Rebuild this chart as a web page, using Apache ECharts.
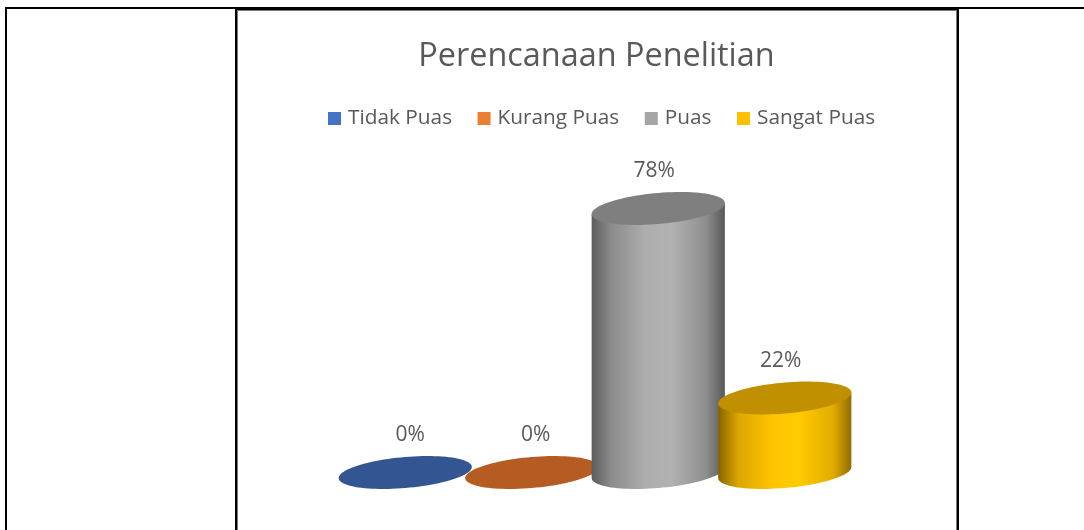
<!DOCTYPE html>
<html><head><meta charset="utf-8">
<style>html,body{margin:0;padding:0;background:#fff}#c{width:1084px;height:530px}</style>
<script src="https://cdn.jsdelivr.net/npm/echarts@6/dist/echarts.min.js"></script>
</head><body><div id="c"></div>
<script>
const titleText = 'Perencanaan Penelitian';
const categories = ['Tidak Puas', 'Kurang Puas', 'Puas', 'Sangat Puas'];
const values = [0, 0, 78, 22];

// styling, by category
const legendColors = ['#4472c4', '#ed7d31', '#a5a5a5', '#ffc000'];
const topColors = ['#335693', '#b45c22', '#7f7f7f', '#c09000'];
const sideStops = [
  null, null,
  ['#5c5c5c', '#8c8c8c', '#adadad', '#b2b2b2', '#8e8e8e', '#585858'],
  ['#866500', '#dba600', '#ffc400', '#ffcc00', '#e3ad00', '#8f6c00']
];
const labelShift = [5, 4, -4, -4];

const textColor = '#595959';
const fontFamily = '"Open Sans","Noto Sans",sans-serif';
const widthRatio = 1.053;   // cylinder width relative to the category band
const minorRatio = 0.233;   // ellipse half-height relative to half-width
const skewRatio = 0.083;    // rise of the ellipse's right end relative to half-width

function ellipsePts(cx, cy, a, from, to, n) {
  const b = a * minorRatio, k = a * skewRatio, pts = [];
  for (let i = 0; i <= n; i++) {
    const t = from + (to - from) * i / n;
    pts.push([cx + a * Math.cos(t), cy - k * Math.cos(t) + b * Math.sin(t)]);
  }
  return pts;
}

function cylinder(catIndex) {
  return function (params, api) {
    const base = api.coord([catIndex, 0]);
    const top = api.coord([catIndex, api.value(1)]);
    const a = api.size([1, 0])[0] * widthRatio / 2;
    const kids = [];
    if (api.value(1) > 0) {
      const lower = ellipsePts(base[0], base[1], a, 0, Math.PI, 48);
      const upper = [
        [top[0] - a, top[1] + a * skewRatio],
        [top[0] + a, top[1] - a * skewRatio]
      ];
      const stops = sideStops[catIndex];
      const offs = [0, 0.15, 0.4, 0.6, 0.86, 1];
      kids.push({
        type: 'polygon',
        shape: { points: lower.concat(upper) },
        style: {
          fill: new echarts.graphic.LinearGradient(0, 0, 1, 0,
            stops.map((c, i) => ({ offset: offs[i], color: c })))
        }
      });
    }
    kids.push({
      type: 'polygon',
      shape: { points: ellipsePts(top[0], top[1], a, 0, Math.PI * 2, 96) },
      style: { fill: topColors[catIndex] }
    });
    kids.push({
      type: 'text',
      style: {
        text: api.value(1) + '%',
        x: top[0] + labelShift[catIndex],
        y: top[1] - 37.5,
        align: 'center', verticalAlign: 'middle',
        fill: textColor, font: '21px ' + fontFamily
      }
    });
    return { type: 'group', children: kids };
  };
}

const rules = [
  { x: 5, y: 7, w: 1079, h: 2, c: '#000' },
  { x: 5, y: 7, w: 2, h: 523, c: '#000' },
  { x: 235, y: 8, w: 723, h: 2, c: '#000' },
  { x: 235, y: 8, w: 2, h: 522, c: '#000' },
  { x: 957, y: 8, w: 2, h: 522, c: '#000' },
  { x: 237, y: 10, w: 1, h: 520, c: '#777' },
  { x: 956, y: 10, w: 1, h: 520, c: '#777' },
  { x: 237, y: 10, w: 719, h: 1, c: '#777' }
];

const chart = echarts.init(document.getElementById('c'), null, { renderer: 'canvas' });
chart.setOption({
  animation: false,
  backgroundColor: '#fff',
  title: {
    text: titleText, left: 591.5, top: 36, textAlign: 'center',
    textStyle: { color: textColor, fontFamily, fontWeight: 'normal', fontSize: 32.4 }
  },
  legend: {
    top: 103, left: 323, icon: 'rect', itemWidth: 13, itemHeight: 13, itemGap: 25.5,
    data: categories, selectedMode: false,
    textStyle: { color: textColor, fontFamily, fontSize: 20.8, padding: [0, 0, 0, 2] }
  },
  grid: { left: 342, top: 134, width: 506, height: 338.5 },
  xAxis: { type: 'category', data: categories, show: false },
  yAxis: { type: 'value', min: 0, max: 100, show: false },
  graphic: rules.map(r => ({
    type: 'rect', silent: true, z: -10,
    shape: { x: r.x, y: r.y, width: r.w, height: r.h },
    style: { fill: r.c }
  })),
  series: categories.map((name, i) => ({
    type: 'custom', name,
    coordinateSystem: 'cartesian2d',
    itemStyle: { color: legendColors[i] },
    encode: { x: 0, y: 1 },
    clip: false,
    renderItem: cylinder(i),
    data: [[i, values[i]]]
  }))
});
</script></body></html>
